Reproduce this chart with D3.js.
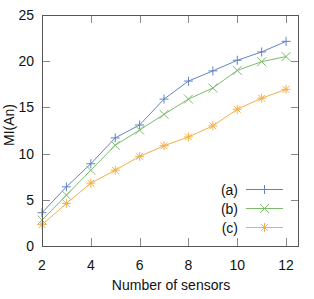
<!DOCTYPE html>
<html>
<head>
<meta charset="utf-8">
<script src="https://cdn.jsdelivr.net/npm/d3@7"></script>
<style>
  body { margin: 0; background: #fff; }
  svg { display: block; font-family: "Liberation Sans", Arial, sans-serif; }
</style>
</head>
<body>
<svg id="chart" width="314" height="299"></svg>
<script>
// Data
var Sensors = [2, 3, 4, 5, 6, 7, 8, 9, 10, 11, 12];
var SeriesA = [3.6, 6.4, 8.9, 11.7, 13.1, 15.9, 17.85, 18.95, 20.1, 21.0, 22.15];
var SeriesB = [2.8, 5.5, 8.2, 10.9, 12.55, 14.25, 15.9, 17.1, 19.0, 19.95, 20.5];
var SeriesC = [2.3, 4.6, 6.8, 8.2, 9.7, 10.85, 11.8, 13.0, 14.8, 16.0, 16.95];
var SeriesNames = ["(a)", "(b)", "(c)"];
var XTicks = [2, 4, 6, 8, 10, 12];
var YTicks = [0, 5, 10, 15, 20, 25];

var Colors = ["#6183c2", "#7dbb6c", "#f3b045"];
var Markers = ["plus", "cross", "star"];

var Svg = d3.select("#chart");
var Left = 42, Right = 299, Top = 15, Bottom = 246;
var X = d3.scaleLinear().domain([2, 12.53]).range([Left, Right]);
var Y = d3.scaleLinear().domain([0, 25]).range([Bottom, Top]);
var TickLen = 8;

// Ticks (inward, mirrored)
var TickG = Svg.append("g").attr("stroke", "#888").attr("stroke-width", 1);
XTicks.forEach(function (T) {
    var Px = Math.round(X(T)) + 0.5;
    TickG.append("line").attr("x1", Px).attr("x2", Px).attr("y1", Bottom).attr("y2", Bottom - TickLen);
    TickG.append("line").attr("x1", Px).attr("x2", Px).attr("y1", Top).attr("y2", Top + TickLen);
});
YTicks.forEach(function (T) {
    var Py = Math.round(Y(T)) + 0.5;
    TickG.append("line").attr("x1", Left).attr("x2", Left + TickLen).attr("y1", Py).attr("y2", Py);
    TickG.append("line").attr("x1", Right).attr("x2", Right - TickLen).attr("y1", Py).attr("y2", Py);
});

// Tick labels
Svg.append("g").selectAll("text").data(XTicks).join("text")
    .attr("x", function (T) { return X(T); })
    .attr("y", 270)
    .attr("text-anchor", "middle")
    .attr("font-size", 14)
    .attr("fill", "#111")
    .text(function (T) { return T; });
Svg.append("g").selectAll("text").data(YTicks).join("text")
    .attr("x", 34)
    .attr("y", function (T) { return Y(T) + 5; })
    .attr("text-anchor", "end")
    .attr("font-size", 14)
    .attr("fill", "#111")
    .text(function (T) { return T; });

// Axis titles
Svg.append("text")
    .attr("x", 171).attr("y", 290)
    .attr("text-anchor", "middle").attr("font-size", 14).attr("fill", "#111")
    .text("Number of sensors");
Svg.append("text")
    .attr("transform", "translate(14,125) rotate(-90)")
    .attr("text-anchor", "middle").attr("font-size", 14).attr("fill", "#111")
    .text("MI(An)");

// Markers
function DrawMarker(G, Kind, Cx, Cy, Color) {
    var S = 4.5;
    var P = G.append("g").attr("stroke", Color).attr("stroke-width", 1).attr("fill", "none");
    if (Kind == "plus" || Kind == "star") {
        P.append("line").attr("x1", Cx - S).attr("x2", Cx + S).attr("y1", Cy).attr("y2", Cy);
        P.append("line").attr("x1", Cx).attr("x2", Cx).attr("y1", Cy - S).attr("y2", Cy + S);
    }
    if (Kind == "cross" || Kind == "star") {
        var D = Kind == "star" ? 3.4 : 4.5;
        P.append("line").attr("x1", Cx - D).attr("x2", Cx + D).attr("y1", Cy - D).attr("y2", Cy + D);
        P.append("line").attr("x1", Cx - D).attr("x2", Cx + D).attr("y1", Cy + D).attr("y2", Cy - D);
    }
}

// Series
var AllSeries = [SeriesA, SeriesB, SeriesC];
var Line = d3.line().x(function (D) { return X(D[0]); }).y(function (D) { return Y(D[1]); });
var PlotG = Svg.append("g");
AllSeries.forEach(function (Values, I) {
    var Points = Sensors.map(function (S, J) { return [S, Values[J]]; });
    PlotG.append("path").attr("d", Line(Points))
        .attr("fill", "none").attr("stroke", Colors[I]).attr("stroke-width", 1);
    Points.forEach(function (P) { DrawMarker(PlotG, Markers[I], X(P[0]), Y(P[1]), Colors[I]); });
});

// Legend
var LegendG = Svg.append("g");
SeriesNames.forEach(function (Name, I) {
    var Ly = 189.5 + I * 19;
    LegendG.append("text").attr("x", 238).attr("y", Ly + 5)
        .attr("text-anchor", "end").attr("font-size", 14).attr("fill", "#111").text(Name);
    LegendG.append("line").attr("x1", 246).attr("x2", 283).attr("y1", Ly).attr("y2", Ly)
        .attr("stroke", Colors[I]).attr("stroke-width", 1);
    DrawMarker(LegendG, Markers[I], 264.5, Ly, Colors[I]);
});

// Frame
Svg.append("rect").attr("x", Left + 0.5).attr("y", Top + 0.5)
    .attr("width", Right - Left - 1).attr("height", Bottom - Top)
    .attr("fill", "none").attr("stroke", "#555").attr("stroke-width", 1);
</script>
</body>
</html>
